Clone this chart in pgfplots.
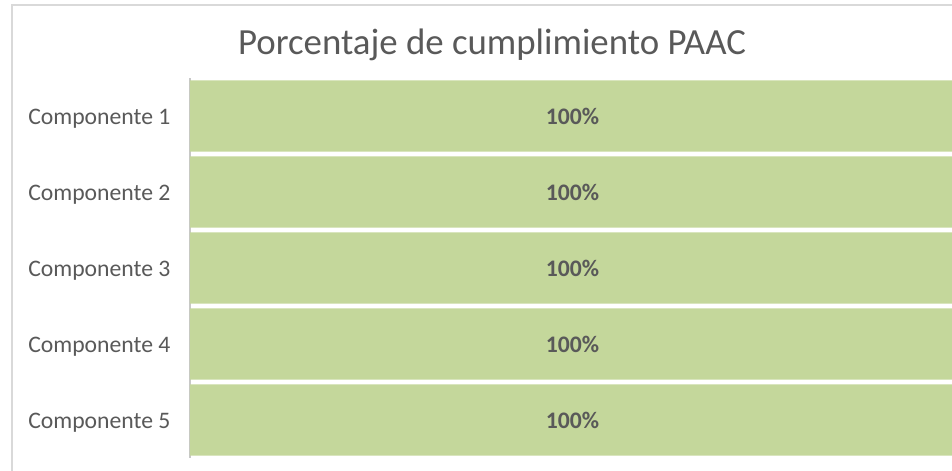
\documentclass[border=0pt]{standalone}
\usepackage{pgfplots}
\pgfplotsset{compat=1.18}
\usepackage{fontspec}
\setmainfont{Carlito}
\definecolor{bargreen}{RGB}{196,215,155}
\definecolor{txtgray}{RGB}{89,89,89}
\definecolor{framegray}{RGB}{217,217,217}
\definecolor{axisgray}{RGB}{200,200,200}
\begin{document}
\begin{tikzpicture}[x=1pt,y=1pt]
\path[use as bounding box] (0,0) rectangle (361.76,178.98);
\draw[framegray, line width=0.45pt] (4.56,0) -- (4.56,177.08) -- (370,177.08);
\node[anchor=base, font=\fontsize{14}{17}\selectfont, text=txtgray, inner sep=0pt] at (186.96,158.1) {Porcentaje de cumplimiento PAAC};
\begin{axis}[
  at={(72.2pt,4.94pt)}, anchor=south west,
  scale only axis, width=290.7pt, height=144.4pt,
  xbar, xmin=0, xmax=1, ymin=-0.5, ymax=4.5, y dir=reverse,
  bar width=27pt,
  ytick={0,1,2,3,4},
  yticklabels={Componente 1,Componente 2,Componente 3,Componente 4,Componente 5},
  xtick=\empty,
  axis x line=none,
  axis y line*=left,
  y axis line style={axisgray, line width=0.6pt},
  major tick length=0pt,
  yticklabel style={font=\fontsize{9}{11}\selectfont, text=txtgray, inner sep=0pt, xshift=-7.2pt, yshift=-1pt},
  clip=false,
  /pgf/number format/assume math mode=true,
  point meta={x*100},
  nodes near coords={\pgfmathprintnumber[fixed,precision=0,assume math mode=true]{\pgfplotspointmeta}\%},
  every node near coord/.append style={font=\fontsize{9}{11}\selectfont\bfseries, text=txtgray, anchor=center, xshift=-145.35pt},
]
\addplot[draw=none, fill=bargreen] coordinates {
  (1.00,0) (1.00,1) (1.00,2) (1.00,3) (1.00,4)
};
\end{axis}
\end{tikzpicture}
\end{document}
